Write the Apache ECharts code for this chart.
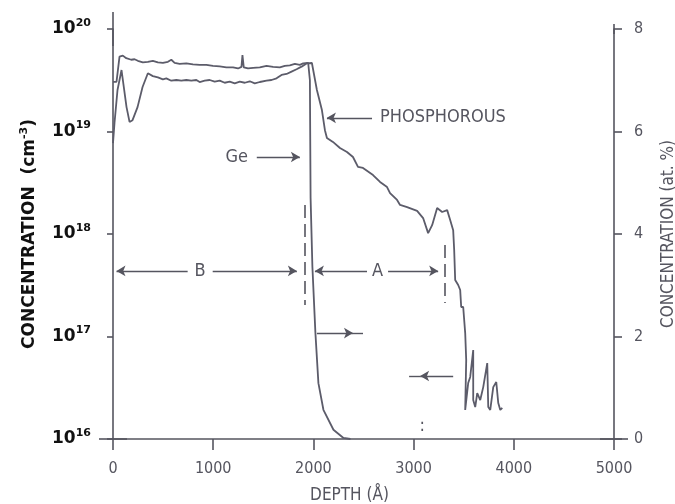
<!DOCTYPE html>
<html>
<head>
<meta charset="utf-8">
<script src="https://cdn.jsdelivr.net/npm/echarts@6/dist/echarts.min.js"></script>
<style>
  html, body { margin: 0; padding: 0; background: #fff; }
  #chart { width: 675px; height: 504px; }
</style>
</head>
<body>
<div id="chart"></div>
<script>
// phosphorous profile, left (log) axis, cm^-3
var depthP = [0, 15, 45, 85, 95, 135, 165, 195, 245, 295, 348, 398, 448, 498, 532, 582, 632, 682, 732, 782,
  832, 865, 915, 965, 1015, 1065, 1115, 1165, 1215, 1265, 1315, 1365, 1415, 1465, 1532, 1582, 1632, 1682, 1732, 1782,
  1832, 1882, 1932, 1985, 2035, 2085, 2115, 2135, 2195, 2265, 2335, 2395, 2445, 2495, 2595, 2665, 2735, 2765, 2835, 2865,
  2935, 3035, 3095, 3145, 3185, 3235, 3285, 3335, 3365, 3395, 3405, 3415, 3445, 3465, 3475, 3495, 3515, 3525, 3515, 3545,
  3565, 3595, 3595, 3615, 3635, 3665, 3695, 3735, 3745, 3765, 3795, 3825, 3845, 3865, 3885]
var concP = [7.7e18, 1.21e19, 2.54e19, 3.98e19, 4.07e19, 1.73e19, 1.24e19, 1.29e19, 1.73e19, 2.72e19, 3.70e19, 3.47e19, 3.37e19, 3.23e19, 3.30e19, 3.13e19, 3.18e19, 3.13e19, 3.18e19, 3.13e19,
  3.18e19, 3.04e19, 3.13e19, 3.18e19, 3.06e19, 3.13e19, 2.99e19, 3.06e19, 2.95e19, 3.06e19, 2.99e19, 3.09e19, 2.95e19, 3.04e19, 3.13e19, 3.18e19, 3.30e19, 3.56e19, 3.64e19, 3.84e19,
  4.05e19, 4.29e19, 4.62e19, 4.66e19, 2.54e19, 1.62e19, 1.03e19, 8.65e18, 7.91e18, 6.90e18, 6.31e18, 5.64e18, 4.51e18, 4.41e18, 3.76e18, 3.22e18, 2.87e18, 2.51e18, 2.15e18, 1.92e18,
  1.83e18, 1.68e18, 1.43e18, 1.02e18, 1.22e18, 1.79e18, 1.64e18, 1.71e18, 1.37e18, 1.09e18, 6.98e17, 3.56e17, 3.18e17, 2.84e17, 1.94e17, 1.94e17, 1.08e17, 5.90e16, 1.92e16, 3.52e16,
  4.03e16, 7.38e16, 2.40e16, 2.05e16, 2.81e16, 2.40e16, 3.21e16, 5.51e16, 2.05e16, 1.92e16, 3.21e16, 3.60e16, 2.24e16, 1.92e16, 2.01e16]

// germanium profile, right axis, at.%
var depthGe = [0, 35, 65, 98, 132, 182, 215, 248, 298, 348, 398, 448, 498, 548, 582, 615, 665, 732, 798, 865,
  932, 998, 1065, 1132, 1198, 1248, 1282, 1292, 1305, 1348, 1398, 1465, 1532, 1598, 1665, 1715, 1765, 1815, 1865, 1898,
  1948, 1965, 1972, 1990, 2020, 2050, 2100, 2200, 2300, 2370]
var geAt = [6.97, 6.97, 7.46, 7.48, 7.43, 7.40, 7.41, 7.38, 7.35, 7.36, 7.38, 7.35, 7.34, 7.36, 7.40, 7.34, 7.32, 7.33, 7.31, 7.30,
  7.30, 7.28, 7.27, 7.25, 7.25, 7.23, 7.26, 7.49, 7.25, 7.23, 7.24, 7.25, 7.28, 7.26, 7.25, 7.28, 7.29, 7.32, 7.30, 7.33,
  7.34, 7.0, 4.7, 3.36, 2.07, 1.09, 0.57, 0.18, 0.02, 0]

var xTicks = [0, 1000, 2000, 3000, 4000, 5000]

// annotation arrows: [fromDepth, fromConc, toDepth, toConc, startSymbol, endSymbol]
var arrowLines = [
  [2135, 1.36e19, 2585, 1.36e19, 'arrow', 'none'],
  [1435, 5.64e18, 1865, 5.64e18, 'none', 'arrow'],
  [35, 4.36e17, 745, 4.36e17, 'arrow', 'none'],
  [995, 4.36e17, 1835, 4.36e17, 'none', 'arrow'],
  [2015, 4.36e17, 2535, 4.36e17, 'arrow', 'none'],
  [2745, 4.36e17, 3245, 4.36e17, 'none', 'arrow'],
  [2035, 1.08e17, 2395, 1.08e17, 'none', 'arrow'],
  [2395, 1.08e17, 2495, 1.08e17, 'none', 'none'],
  [2955, 4.12e16, 3065, 4.12e16, 'none', 'none'],
  [3065, 4.12e16, 3395, 4.12e16, 'arrow', 'none']
]
// layer boundaries (dashed)
var boundaries = [
  [1915, 1.92e18, 1915, 2.03e17],
  [3315, 7.8e17, 3315, 2.12e17]
]
// text labels: [depth, conc, text, anchor]
var labels = [
  [2665, 1.36e19, 'PHOSPHOROUS', 'right'],
  [1235, 5.64e18, 'Ge', 'inside'],
  [870, 4.36e17, 'B', 'inside'],
  [2640, 4.36e17, 'A', 'inside'],
  [3085, 1.34e16, ':', 'inside']
]

var ink = '#5c5c6a'
var axisInk = '#55555f'
var font = "'DejaVu Sans Condensed', 'DejaVu Sans', sans-serif"

var markLineData = arrowLines.map(function(a) {
  return [
    { coord: [a[0], a[1]], symbol: a[4] },
    { coord: [a[2], a[3]], symbol: a[5] }
  ]
}).concat(boundaries.map(function(b) {
  return [
    { coord: [b[0], b[1]], symbol: 'none', lineStyle: { type: [13, 6], width: 1.6 } },
    { coord: [b[2], b[3]], symbol: 'none' }
  ]
}))

var markPointData = labels.map(function(l) {
  return {
    coord: [l[0], l[1]],
    label: { show: true, formatter: l[2], position: l[3], distance: 0 }
  }
})

var chart = echarts.init(document.getElementById('chart'))
chart.setOption({
  animation: false,
  backgroundColor: '#fff',
  textStyle: { fontFamily: font },
  grid: { left: 113, right: 61, top: 29, bottom: 65, containLabel: false, outerBoundsMode: 'none' },
  xAxis: {
    type: 'value',
    min: xTicks[0],
    max: xTicks[xTicks.length - 1],
    interval: 1000,
    name: 'DEPTH (Å)',
    nameLocation: 'middle',
    nameGap: 48,
    nameTextStyle: { color: axisInk, fontSize: 17, fontFamily: font, padding: [0, 28, 0, 0] },
    axisLine: { lineStyle: { color: axisInk, width: 1.6 }, symbol: ['rect', 'rect'], symbolSize: [1.6, 28] },
    axisTick: { length: 11, lineStyle: { width: 1.6 } },
    axisLabel: { color: axisInk, fontSize: 16, margin: 22, formatter: function(v) { return String(v) } },
    splitLine: { show: false }
  },
  yAxis: [{
    type: 'log',
    logBase: 10,
    min: 1e16,
    max: 1e20,
    name: 'CONCENTRATION  (cm{s|-3})',
    nameLocation: 'middle',
    nameRotate: 90,
    nameGap: 73,
    nameTextStyle: {
      color: '#111', fontSize: 17, fontWeight: 'bold', fontFamily: 'DejaVu Sans',
      rich: { s: { fontSize: 11, fontWeight: 'bold', color: '#111', padding: [0, 0, 10, 0], fontFamily: 'DejaVu Sans' } }
    },
    axisLine: { show: true, lineStyle: { color: axisInk, width: 1.6 }, symbol: ['none', 'rect'], symbolSize: [1.6, 34] },
    axisTick: { show: true, length: 6, lineStyle: { width: 1.6 } },
    axisLabel: {
      margin: 22,
      formatter: function(v) {
        return '{b|10}{s|' + Math.round(Math.log10(v)) + '}'
      },
      rich: {
        b: { fontSize: 17, fontWeight: 'bold', color: '#111', fontFamily: 'DejaVu Sans' },
        s: { fontSize: 11, fontWeight: 'bold', color: '#111', fontFamily: 'DejaVu Sans', padding: [0, 0, 12, 0] }
      }
    },
    splitLine: { show: false }
  }, {
    type: 'value',
    position: 'right',
    min: 0,
    max: 8,
    interval: 2,
    name: 'CONCENTRATION (at. %)',
    nameLocation: 'middle',
    nameRotate: 90,
    nameGap: 46,
    nameTextStyle: { color: axisInk, fontSize: 17, fontFamily: font },
    axisLine: { show: true, lineStyle: { color: axisInk, width: 1.6 }, symbol: ['none', 'rect'], symbolSize: [1.6, 10] },
    axisTick: { show: true, length: 8, lineStyle: { width: 1.6 } },
    axisLabel: { color: axisInk, fontSize: 16, margin: 20 },
    splitLine: { show: false }
  }],
  series: [{
    name: 'Phosphorous',
    type: 'line',
    yAxisIndex: 0,
    showSymbol: false,
    symbol: 'none',
    lineStyle: { color: ink, width: 1.8 },
    data: depthP.map(function(d, i) { return [d, concP[i]] }),
    markLine: {
      silent: true,
      symbol: ['none', 'none'],
      symbolSize: [8, 9],
      label: { show: false },
      lineStyle: { color: axisInk, width: 1.4, type: 'solid' },
      data: markLineData
    },
    markPoint: {
      silent: true,
      symbol: 'circle',
      symbolSize: 0,
      label: { color: axisInk, fontSize: 18, fontFamily: font },
      data: markPointData
    }
  }, {
    name: 'Ge',
    type: 'line',
    yAxisIndex: 1,
    showSymbol: false,
    symbol: 'none',
    lineStyle: { color: ink, width: 1.8 },
    data: depthGe.map(function(d, i) { return [d, geAt[i]] })
  }]
})
</script>
</body>
</html>
